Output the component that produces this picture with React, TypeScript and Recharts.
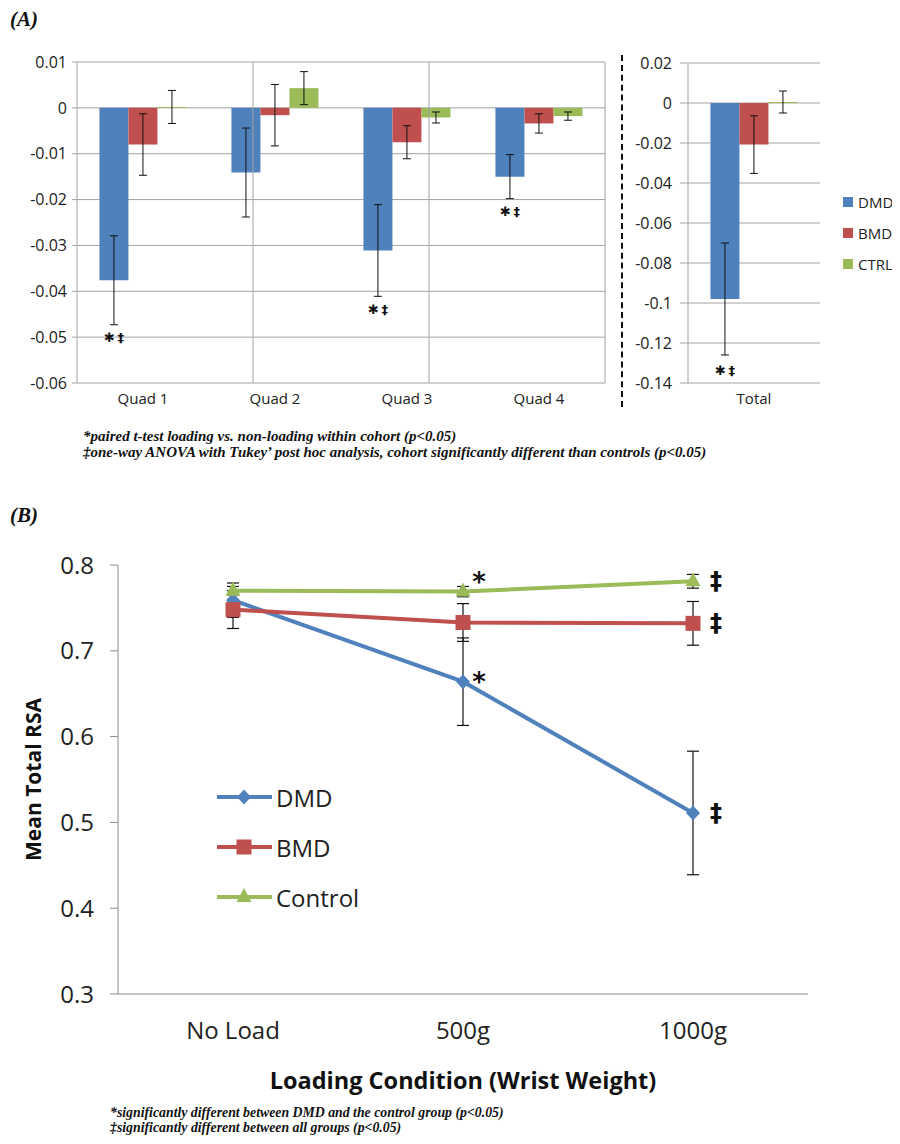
import React from 'react';
import {
  BarChart, Bar, XAxis, YAxis, CartesianGrid, ErrorBar, LabelList, ReferenceLine, Legend,
  LineChart, Line,
} from 'recharts';

// ---------- Panel A data ----------
const quadCategories = ['Quad 1', 'Quad 2', 'Quad 3', 'Quad 4'];
const quadDMD = [-0.0376, -0.0141, -0.0311, -0.015];
const quadDMDErr = [0.0097, 0.0097, 0.01, 0.0048];
const quadBMD = [-0.008, -0.0016, -0.0075, -0.0034];
const quadBMDErr = [0.0067, 0.0067, 0.0036, 0.0021];
const quadCTRL = [0.0002, 0.0043, -0.0021, -0.0018];
const quadCTRLErr = [0.0036, 0.0036, 0.0012, 0.0009];
const quadSig = ['\u2731\u2009\u2021', '', '\u2731\u2009\u2021', '\u2731\u2009\u2021'];
const quadTicks = [0.01, 0, -0.01, -0.02, -0.03, -0.04, -0.05, -0.06];
const quadBoundaries = [1, 2, 3];

const totalCategories = ['Total'];
const totalDMD = [-0.098];
const totalDMDErr = [0.028];
const totalBMD = [-0.0208];
const totalBMDErr = [0.0144];
const totalCTRL = [0.0005];
const totalCTRLErr = [0.0055];
const totalSig = ['\u2731\u2009\u2021'];
const totalTicks = [0.02, 0, -0.02, -0.04, -0.06, -0.08, -0.1, -0.12, -0.14];

const barSeries = ['DMD', 'BMD', 'CTRL'];

// ---------- Panel B data ----------
const loadCategories = ['No Load', '500g', '1000g'];
const rsaDMD = [0.759, 0.664, 0.511];
const rsaDMDErr = [0.02, 0.051, 0.072];
const rsaBMD = [0.748, 0.733, 0.732];
const rsaBMDErr = [0.022, 0.022, 0.0255];
const rsaCTRL = [0.77, 0.769, 0.781];
const rsaCTRLErr = [0.005, 0.006, 0.008];
const rsaSigDMD = ['', '*', '\u2021'];
const rsaSigBMD = ['', '', '\u2021'];
const rsaSigCTRL = ['', '*', '\u2021'];
const rsaTicks = [0.3, 0.4, 0.5, 0.6, 0.7, 0.8];
const loadEdges = [0, 1, 2, 3];
const lineSeries = ['DMD', 'BMD', 'Control'];

const BLUE = '#4F81BD';
const RED = '#C0504D';
const GREEN = '#9BBB59';
const AXIS = '#8c8c8c';
const GRID = '#a3a3a3';
const FONT = '"Open Sans", "Liberation Sans", sans-serif';

const quadData = quadCategories.map((c, i) => ({
  cat: c, DMD: quadDMD[i], dmdErr: quadDMDErr[i], BMD: quadBMD[i], bmdErr: quadBMDErr[i],
  CTRL: quadCTRL[i], ctrlErr: quadCTRLErr[i],
}));
const totalData = totalCategories.map((c, i) => ({
  cat: c, DMD: totalDMD[i], dmdErr: totalDMDErr[i], BMD: totalBMD[i], bmdErr: totalBMDErr[i],
  CTRL: totalCTRL[i], ctrlErr: totalCTRLErr[i],
}));
const rsaData = loadCategories.map((c, i) => ({
  cat: c, DMD: rsaDMD[i], dmdErr: rsaDMDErr[i], BMD: rsaBMD[i], bmdErr: rsaBMDErr[i],
  Control: rsaCTRL[i], ctrlErr: rsaCTRLErr[i],
}));

const fmtA = (v: number) => String(Number(v.toFixed(2)));

const makeBarSig = (values: number[], errs: number[], sigs: string[], gap: number) => (props: any) => {
  const { x, y, width, height, index } = props;
  const sig = sigs[index];
  if (!sig || x == null) return null;
  const h = Number(height);
  const bottom = Math.max(Number(y), Number(y) + h);
  const ppu = Math.abs(h) / Math.abs(values[index]);
  const errBottom = bottom + errs[index] * ppu;
  return (
    <text x={Number(x) + Number(width) / 2} y={errBottom + gap} textAnchor="middle" dominantBaseline="central"
      fontFamily="DejaVu Sans" fontWeight="bold" fontSize={13} fill="#111">{sig}</text>
  );
};

const makeLineSig = (sigs: string[], starDy: number) => (props: any) => {
  const { x, y, index } = props;
  const s = sigs[index];
  if (!s || x == null) return null;
  if (s === '*') {
    return (
      <text x={Number(x) + 16} y={Number(y) + starDy} textAnchor="middle" dominantBaseline="central"
        fontFamily="DejaVu Sans" fontWeight="bold" fontSize={26} fill="#111">*</text>
    );
  }
  return (
    <text x={Number(x) + 23} y={Number(y)} textAnchor="middle" dominantBaseline="central"
      fontFamily="DejaVu Sans" fontWeight="bold" fontSize={24} fill="#111">{s}</text>
  );
};

const orderPayload = (payload: any[], order: string[]) =>
  order.map((n) => payload.find((p: any) => p.value === n)).filter(Boolean);

const barLegend = (props: any) => {
  const payload = orderPayload(props.payload || [], barSeries);
  return (
    <div>
      {payload.map((p: any) => (
        <div key={p.value} style={{ display: 'flex', alignItems: 'center', height: 31, fontFamily: FONT, fontSize: 15, color: '#222' }}>
          <span style={{ display: 'inline-block', width: 10, height: 10, background: p.color, marginRight: 5 }} />
          {p.value}
        </div>
      ))}
    </div>
  );
};

const markerShape = (name: string, color: string, cx: number, cy: number, key?: any) => {
  if (name === 'DMD') {
    return <path key={key} d={`M${cx},${cy - 7.5}L${cx + 7},${cy}L${cx},${cy + 7.5}L${cx - 7},${cy}Z`} fill={color} />;
  }
  if (name === 'BMD') {
    return <rect key={key} x={cx - 7.5} y={cy - 7.5} width={15} height={15} fill={color} />;
  }
  return <path key={key} d={`M${cx},${cy - 9}L${cx + 7.5},${cy + 5}L${cx - 7.5},${cy + 5}Z`} fill={color} />;
};

const makeDot = (name: string, color: string) => (props: any) => {
  const { cx, cy, index } = props;
  if (cx == null || cy == null) return <g key={index} />;
  return markerShape(name, color, cx, cy, index);
};

const lineLegend = (props: any) => {
  const payload = orderPayload(props.payload || [], lineSeries);
  return (
    <div>
      {payload.map((p: any) => (
        <div key={p.value} style={{ display: 'flex', alignItems: 'center', height: 50, fontFamily: FONT, fontSize: 24, color: '#222' }}>
          <svg width={58} height={20} style={{ marginRight: 2 }}>
            <line x1={1} y1={10} x2={56} y2={10} stroke={p.color} strokeWidth={4} />
            {markerShape(p.value, p.color, 28, 10)}
          </svg>
          {p.value}
        </div>
      ))}
    </div>
  );
};

const yTitle = (props: any) => {
  const vb = props.viewBox;
  const cx = 33;
  const cy = vb.y + vb.height / 2;
  return (
    <text x={cx} y={cy} transform={`rotate(-90, ${cx}, ${cy})`} textAnchor="middle" dominantBaseline="central"
      fontFamily={FONT} fontWeight="bold" fontSize={21} fill="#111">Mean Total RSA</text>
  );
};

const xTitle = (props: any) => {
  const vb = props.viewBox;
  return (
    <text x={vb.x + vb.width / 2} y={vb.y + 86} textAnchor="middle" dominantBaseline="central"
      fontFamily={FONT} fontWeight="bold" fontSize={23.5} fill="#111">Loading Condition (Wrist Weight)</text>
  );
};

const footStyle: React.CSSProperties = {
  position: 'absolute', fontFamily: '"Liberation Serif", serif', fontStyle: 'italic', fontWeight: 'bold',
  color: '#111', whiteSpace: 'nowrap',
};

const panelLabel: React.CSSProperties = {
  position: 'absolute', left: 10, fontFamily: '"Liberation Serif", serif', fontStyle: 'italic',
  fontWeight: 'bold', fontSize: 21, lineHeight: '24px', color: '#111',
};

export default function App() {
  return (
    <div style={{ position: 'relative', width: 900, height: 1144, margin: -8, background: '#fff', overflow: 'hidden' }}>
      <div style={{ ...panelLabel, top: 7 }}>(A)</div>

      {/* Panel A: quadrants */}
      <div style={{ position: 'absolute', left: 0, top: 0 }}>
        <BarChart width={620} height={420} data={quadData} margin={{ top: 62, right: 15, left: 0, bottom: 7 }}
          barCategoryGap="17%" barGap={0}>
          <CartesianGrid vertical={false} stroke={GRID} />
          <XAxis dataKey="cat" axisLine={false} tickLine={false} height={30} tickMargin={4}
            tick={{ fontFamily: FONT, fontSize: 15, fill: '#222' }} interval={0} />
          <XAxis xAxisId="grid" type="number" domain={[0, quadCategories.length]} hide allowDataOverflow />
          <YAxis width={77} domain={[-0.06, 0.01]} ticks={quadTicks} tickFormatter={fmtA} allowDataOverflow
            axisLine={{ stroke: GRID }} tickLine={{ stroke: GRID }} tickSize={5} tickMargin={5}
            tick={{ fontFamily: FONT, fontSize: 16, fill: '#222' }} interval={0} />
          {quadBoundaries.map((b) => (
            <ReferenceLine key={b} xAxisId="grid" x={b} stroke={GRID} />
          ))}
          <Bar dataKey="DMD" name="DMD" fill={BLUE} isAnimationActive={false}>
            <ErrorBar dataKey="dmdErr" width={4} stroke="#111" strokeWidth={1} direction="y" />
            <LabelList dataKey="DMD" content={makeBarSig(quadDMD, quadDMDErr, quadSig, 13)} />
          </Bar>
          <Bar dataKey="BMD" name="BMD" fill={RED} isAnimationActive={false}>
            <ErrorBar dataKey="bmdErr" width={4} stroke="#111" strokeWidth={1} direction="y" />
          </Bar>
          <Bar dataKey="CTRL" name="CTRL" fill={GREEN} isAnimationActive={false}>
            <ErrorBar dataKey="ctrlErr" width={4} stroke="#111" strokeWidth={1} direction="y" />
          </Bar>
        </BarChart>
      </div>

      <div style={{ position: 'absolute', left: 621, top: 55, height: 352, borderLeft: '2px dashed #111' }} />

      {/* Panel A: total */}
      <div style={{ position: 'absolute', left: 630, top: 0 }}>
        <BarChart width={270} height={420} data={totalData} margin={{ top: 63, right: 80, left: 0, bottom: 7 }}
          barCategoryGap="17%" barGap={0}>
          <CartesianGrid vertical={false} stroke={GRID} />
          <XAxis dataKey="cat" axisLine={false} tickLine={false} height={30} tickMargin={4}
            tick={{ fontFamily: FONT, fontSize: 15, fill: '#222' }} />
          <YAxis width={58} domain={[-0.14, 0.02]} ticks={totalTicks} tickFormatter={fmtA} allowDataOverflow
            axisLine={{ stroke: GRID }} tickLine={{ stroke: GRID }} tickSize={8} tickMargin={8}
            tick={{ fontFamily: FONT, fontSize: 16, fill: '#222' }} interval={0} />
          <Bar dataKey="DMD" name="DMD" fill={BLUE} isAnimationActive={false}>
            <ErrorBar dataKey="dmdErr" width={4} stroke="#111" strokeWidth={1} direction="y" />
            <LabelList dataKey="DMD" content={makeBarSig(totalDMD, totalDMDErr, totalSig, 15)} />
          </Bar>
          <Bar dataKey="BMD" name="BMD" fill={RED} isAnimationActive={false}>
            <ErrorBar dataKey="bmdErr" width={4} stroke="#111" strokeWidth={1} direction="y" />
          </Bar>
          <Bar dataKey="CTRL" name="CTRL" fill={GREEN} isAnimationActive={false}>
            <ErrorBar dataKey="ctrlErr" width={4} stroke="#111" strokeWidth={1} direction="y" />
          </Bar>
          <Legend layout="vertical" align="center" verticalAlign="middle" content={barLegend}
            wrapperStyle={{ left: 213, top: 186, width: 60 }} />
        </BarChart>
      </div>

      <div style={{ ...footStyle, left: 83, top: 428, fontSize: 15, lineHeight: '16px' }}>
        <div>*paired t-test loading vs. non-loading within cohort (p&lt;0.05)</div>
        <div>{'\u2021'}one-way ANOVA with Tukey’ post hoc analysis, cohort significantly different than controls (p&lt;0.05)</div>
      </div>

      <div style={{ ...panelLabel, top: 503 }}>(B)</div>

      {/* Panel B */}
      <div style={{ position: 'absolute', left: 0, top: 540 }}>
        <LineChart width={900} height={560} data={rsaData} margin={{ top: 25, right: 92, left: 0, bottom: 6 }}>
          <XAxis xAxisId="edges" type="number" domain={[0, loadCategories.length]} ticks={loadEdges}
            allowDataOverflow height={0} tick={false} axisLine={false} tickLine={{ stroke: AXIS }} tickSize={8} />
          <XAxis dataKey="cat" scale="band" height={100} axisLine={{ stroke: AXIS }} tickLine={false}
            tickMargin={22} tick={{ fontFamily: FONT, fontSize: 24, fill: '#222' }} interval={0} label={xTitle} />
          <YAxis width={118} domain={[0.3, 0.8]} ticks={rsaTicks} tickFormatter={(v: number) => v.toFixed(1)}
            allowDataOverflow axisLine={{ stroke: AXIS }} tickLine={{ stroke: AXIS }} tickSize={8} tickMargin={16}
            tick={{ fontFamily: FONT, fontSize: 24, fill: '#222' }} interval={0} label={yTitle} />
          <Line dataKey="DMD" name="DMD" stroke={BLUE} strokeWidth={4} dot={makeDot('DMD', BLUE)}
            activeDot={false} isAnimationActive={false}>
            <ErrorBar dataKey="dmdErr" width={6} stroke="#111" strokeWidth={1.2} direction="y" />
            <LabelList dataKey="DMD" content={makeLineSig(rsaSigDMD, 0)} />
          </Line>
          <Line dataKey="BMD" name="BMD" stroke={RED} strokeWidth={4} dot={makeDot('BMD', RED)}
            activeDot={false} isAnimationActive={false}>
            <ErrorBar dataKey="bmdErr" width={6} stroke="#111" strokeWidth={1.2} direction="y" />
            <LabelList dataKey="BMD" content={makeLineSig(rsaSigBMD, 0)} />
          </Line>
          <Line dataKey="Control" name="Control" stroke={GREEN} strokeWidth={4} dot={makeDot('Control', GREEN)}
            activeDot={false} isAnimationActive={false}>
            <ErrorBar dataKey="ctrlErr" width={6} stroke="#111" strokeWidth={1.2} direction="y" />
            <LabelList dataKey="Control" content={makeLineSig(rsaSigCTRL, -10)} />
          </Line>
          <Legend layout="vertical" align="center" verticalAlign="middle" content={lineLegend}
            wrapperStyle={{ left: 216, top: 232, width: 200 }} />
        </LineChart>
      </div>

      <div style={{ ...footStyle, left: 110, top: 1105, fontSize: 13.8, lineHeight: '15px' }}>
        <div>*significantly different between DMD and the control group (p&lt;0.05)</div>
        <div>{'\u2021'}significantly different between all groups (p&lt;0.05)</div>
      </div>
    </div>
  );
}
